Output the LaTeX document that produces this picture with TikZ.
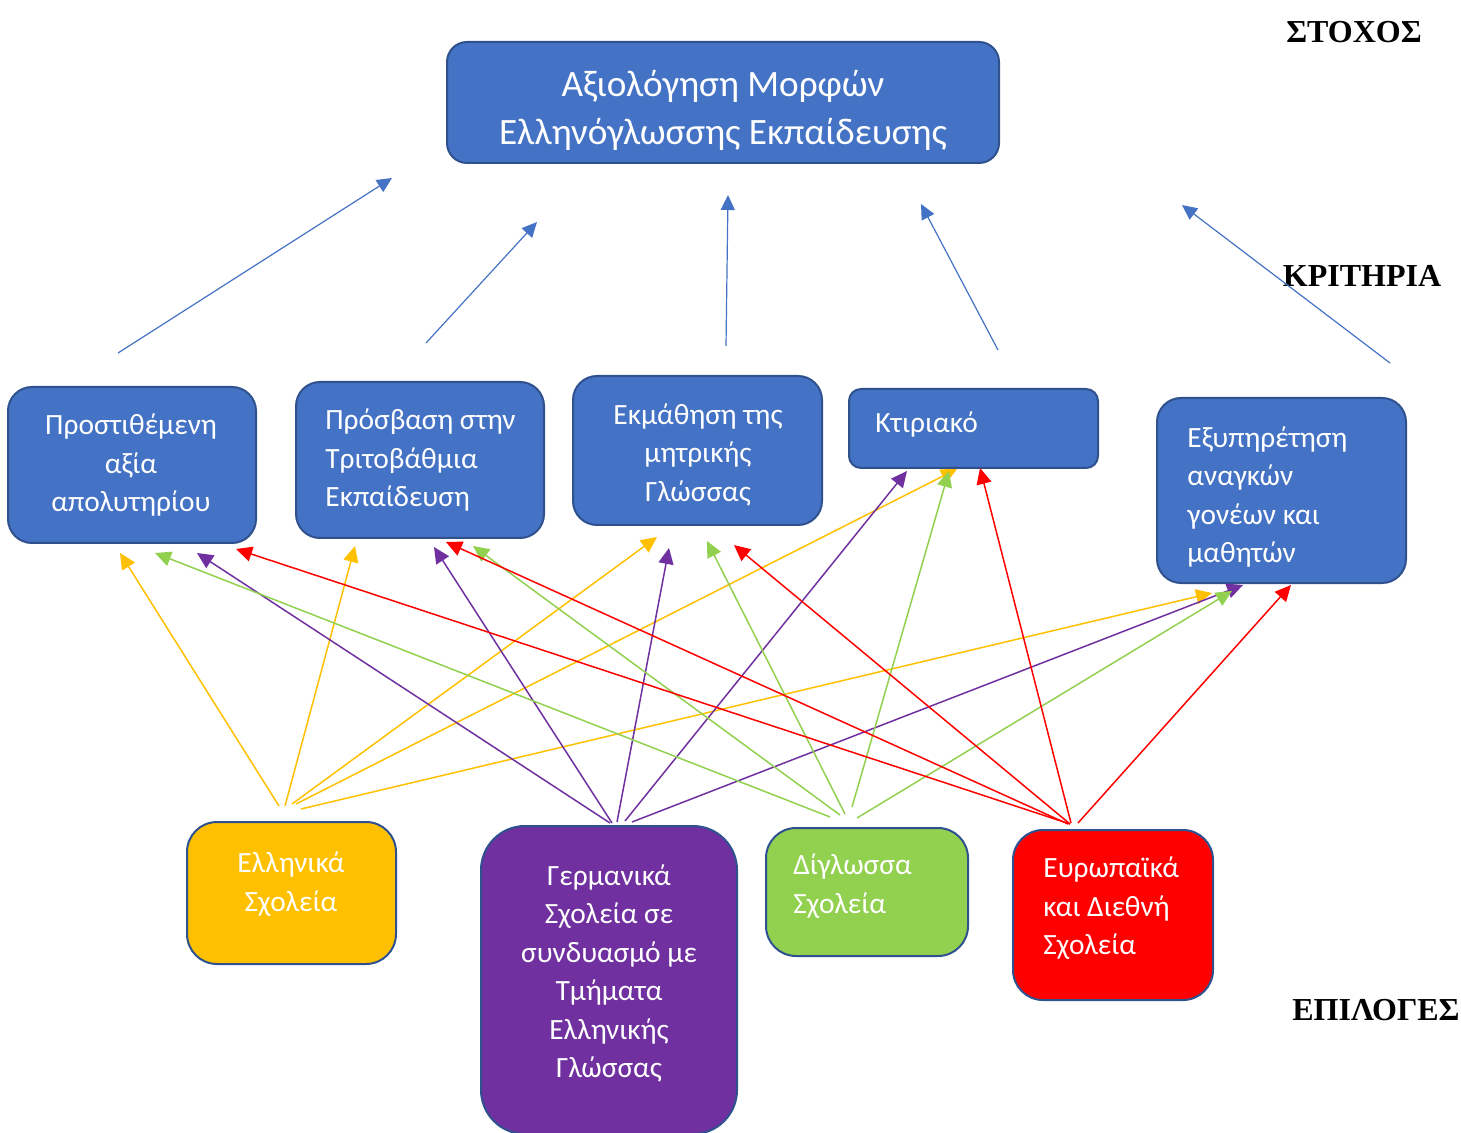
\documentclass[tikz,border=0pt]{standalone}
\usepackage{fontspec}
\setmainfont{Carlito}
\newfontfamily\lblfont{Liberation Serif}
\usetikzlibrary{arrows.meta}
\definecolor{bxblue}{HTML}{4472C4}
\definecolor{bxborder}{HTML}{2F528F}
\definecolor{yel}{HTML}{FFC000}
\definecolor{pur}{HTML}{7030A0}
\definecolor{grn}{HTML}{92D050}
\definecolor{rd}{HTML}{FF0000}
\begin{document}
\begin{tikzpicture}[x=0.5pt,y=-0.5pt,
  box/.style={draw=bxborder, line width=1pt, rounded corners=12pt, inner sep=0pt, outer sep=0pt},
  txt/.style={text=white, font=\fontsize{14.7}{19.25}\selectfont, inner sep=0pt},
  lbl/.style={font=\lblfont\bfseries\fontsize{16}{19}\selectfont, inner sep=0pt, anchor=base},
  arr/.style={line width=0.75pt, -{Triangle[length=8pt,width=7.5pt]}},
  barr/.style={draw=bxblue, line width=0.6pt, -{Triangle[length=7.5pt,width=7pt]}}]
\useasboundingbox (0,0) rectangle (1461,1133);
\clip (0,0) rectangle (1461,1133);
% goal
\node[box, fill=bxblue, rounded corners=10pt, minimum width=276pt, minimum height=60.5pt] (goal) at (723,102.5) {};
\node[txt, align=center, font=\fontsize{18.6}{24}\selectfont] (tgoal) at (723,110) {Αξιολόγηση Μορφών\\Ελληνόγλωσσης Εκπαίδευσης};
% criteria
\node[box, fill=bxblue, minimum width=124pt, minimum height=78pt] (c1) at (132,465) {};
\node[txt, align=center] (tc1) at (131,465.5) {Προστιθέμενη\\αξία\\απολυτηρίου};
\node[box, fill=bxblue, minimum width=124pt, minimum height=78pt] (c2) at (420,460) {};
\node[txt, align=left, anchor=west] (tc2) at (325,460.5) {Πρόσβαση στην\\Τριτοβάθμια\\Εκπαίδευση};
\node[box, fill=bxblue, minimum width=124.5pt, minimum height=74.5pt] (c3) at (697.5,450.5) {};
\node[txt, align=center] (tc3) at (698,454.5) {Εκμάθηση της\\μητρικής\\Γλώσσας};
\node[box, fill=bxblue, rounded corners=6pt, minimum width=124.5pt, minimum height=39.5pt] (c4) at (973.5,428.5) {};
\node[txt, anchor=west] (tc4) at (875,425) {Κτιριακό};
\node[box, fill=bxblue, minimum width=124.5pt, minimum height=92.5pt] (c5) at (1281.5,490.5) {};
\node[txt, align=left, anchor=west] (tc5) at (1187,497) {Εξυπηρέτηση\\αναγκών\\γονέων και\\μαθητών};
% options
\node[box, fill=yel, rounded corners=15pt, minimum width=104.5pt, minimum height=71pt] (o1) at (291.5,893) {};
\node[txt, align=center] (to1) at (291,884) {Ελληνικά\\Σχολεία};
\node[box, fill=pur, rounded corners=22pt, minimum width=128pt, minimum height=154pt] (o2) at (609,980) {};
\node[txt, align=center] (to2) at (609,973.5) {Γερμανικά\\Σχολεία σε\\συνδυασμό με\\Τμήματα\\Ελληνικής\\Γλώσσας};
\node[box, fill=grn, rounded corners=15pt, minimum width=101pt, minimum height=64pt] (o3) at (867,892) {};
\node[txt, align=left, anchor=west] (to3) at (793,886) {Δίγλωσσα\\Σχολεία};
\node[box, fill=rd, rounded corners=15pt, minimum width=100pt, minimum height=85pt] (o4) at (1113,915) {};
\node[txt, align=left, anchor=west] (to4) at (1043,908.5) {Ευρωπαϊκά\\και Διεθνή\\Σχολεία};
% level labels
\node[lbl] (lgoal) at (1354,43) {ΣΤΟΧΟΣ};
\node[lbl] (lcrit) at (1362,287) {ΚΡΙΤΗΡΙΑ};
\node[lbl] (lopt) at (1376,1020) {ΕΠΙΛΟΓΕΣ};
% connector end points
\foreach \n/\sx/\sy/\ex/\ey in {
  b1/118/353/392/178, b2/426/343/537/222, b3/726/346/728/195, b4/998/350/921/204, b5/1390/363/1182/205,
  y1/279/806/120/553, y2/285/806/355/546, y3/292/804/657/537, y4/296/804/957/469, y5/301/809/1212/593,
  p1/610/823/197/553, p2/612/823/434/547, p3/617/822/669/548, p4/625/821/907/471, p5/632/822/1243/585,
  g1/830/817/155/553, g2/840/815/473/546, g3/845/814/707/541, g4/852/807/949/471, g5/857/818/1232/591,
  r1/1070/824/236/549, r2/1068/824/446/542, r3/1070/824/734/545, r4/1071/823/980/468, r5/1078/823/1291/585}
  {\coordinate (\n s) at (\sx,\sy); \coordinate (\n e) at (\ex,\ey);}
\foreach \n in {b1,b2,b3,b4,b5} \draw[barr] (\n s) -- (\n e);
\foreach \n in {y1,y2,y3,y4,y5} \draw[arr, draw=yel] (\n s) -- (\n e);
\foreach \n in {p1,p2,p3,p4,p5} \draw[arr, draw=pur] (\n s) -- (\n e);
\foreach \n in {g1,g2,g3,g4,g5} \draw[arr, draw=grn] (\n s) -- (\n e);
\foreach \n in {r1,r2,r3,r4,r5} \draw[arr, draw=rd] (\n s) -- (\n e);
\end{tikzpicture}
\end{document}
